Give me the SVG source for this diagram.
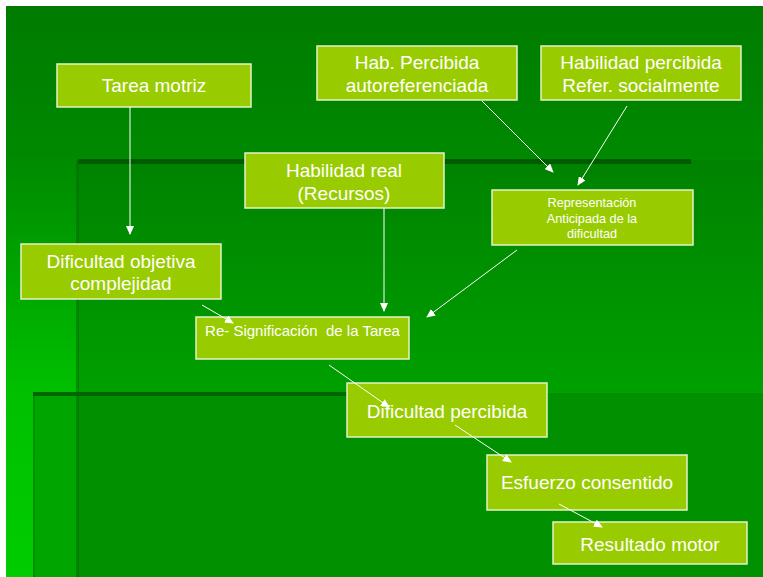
<svg xmlns="http://www.w3.org/2000/svg" width="763" height="577" viewBox="0 0 763 577">
<defs>
<linearGradient id="bg" x1="0" y1="6" x2="0" y2="577" gradientUnits="userSpaceOnUse">
<stop offset="0" stop-color="#007b00"/>
<stop offset="0.26" stop-color="#008900"/>
<stop offset="0.68" stop-color="#00c000"/>
<stop offset="1" stop-color="#00cc00"/>
</linearGradient>
<linearGradient id="ovA" x1="0" y1="160" x2="0" y2="393" gradientUnits="userSpaceOnUse">
<stop offset="0" stop-color="#008200"/>
<stop offset="1" stop-color="#00a000"/>
</linearGradient>
<marker id="ah" markerWidth="9" markerHeight="8" refX="8" refY="4" orient="auto" markerUnits="userSpaceOnUse">
<path d="M0,0 L9,4 L0,8 Z" fill="#ffffff"/>
</marker>
<style>
.node rect{fill:#99cc00;stroke:#e4f2c8;stroke-width:1.5}
.node text{font-family:"Liberation Sans",Arial,sans-serif;fill:#ffffff;text-anchor:middle}
.big{font-size:19px}
.mid{font-size:15px}
.sm{font-size:12.7px}
#connectors line{stroke:#ffffff;stroke-width:1;marker-end:url(#ah)}
</style>
</defs>
<g id="background">
<rect x="0" y="0" width="763" height="577" fill="#ffffff"/>
<rect x="6" y="6" width="757" height="571" fill="url(#bg)"/>
<rect x="78" y="160" width="685" height="233" fill="url(#ovA)"/>
<rect x="33" y="393" width="45" height="184" fill="#00a500"/>
<rect x="78" y="393" width="685" height="184" fill="#009000"/>
<rect x="76" y="160" width="3" height="417" fill="#007000" opacity="0.6"/>
<rect x="78" y="159" width="613" height="5" fill="#005a00"/>
<rect x="33" y="393" width="2" height="184" fill="#008000" opacity="0.6"/>
<rect x="33" y="392" width="320" height="4" fill="#006600"/>
</g>
<g id="tarea" class="node">
<rect x="57" y="64" width="194" height="43"/>
<text class="big" x="154" y="92">Tarea motriz</text>
</g>
<g id="habPercibida" class="node">
<rect x="317" y="46" width="200" height="54"/>
<text class="big" x="417" y="69">Hab. Percibida</text>
<text class="big" x="417" y="92">autoreferenciada</text>
</g>
<g id="habSocial" class="node">
<rect x="541" y="46" width="200" height="54"/>
<text class="big" x="641" y="69">Habilidad percibida</text>
<text class="big" x="641" y="92">Refer. socialmente</text>
</g>
<g id="habReal" class="node">
<rect x="245" y="153" width="199" height="55"/>
<text class="big" x="344" y="177">Habilidad real</text>
<text class="big" x="344" y="200">(Recursos)</text>
</g>
<g id="representacion" class="node">
<rect x="492" y="190" width="201" height="55"/>
<text class="sm" x="592" y="207">Representación</text>
<text class="sm" x="592" y="222.5">Anticipada de la</text>
<text class="sm" x="592" y="238">dificultad</text>
</g>
<g id="dificultadObjetiva" class="node">
<rect x="21" y="244" width="200" height="55"/>
<text class="big" x="121" y="268">Dificultad objetiva</text>
<text class="big" x="121" y="290">complejidad</text>
</g>
<g id="resignificacion" class="node">
<rect x="196" y="317" width="213" height="42"/>
<text class="mid" x="302.5" y="336" xml:space="preserve">Re- Significación  de la Tarea</text>
</g>
<g id="dificultadPercibida" class="node">
<rect x="347" y="383" width="200" height="54"/>
<text class="big" x="447" y="418">Dificultad percibida</text>
</g>
<g id="esfuerzo" class="node">
<rect x="487" y="455" width="200" height="55"/>
<text class="big" x="587" y="489">Esfuerzo consentido</text>
</g>
<g id="resultado" class="node">
<rect x="553" y="522" width="194" height="42"/>
<text class="big" x="650" y="551">Resultado motor</text>
</g>
<g id="connectors">
<line x1="130" y1="107" x2="130" y2="234"/>
<line x1="482" y1="101" x2="553" y2="172"/>
<line x1="627" y1="106" x2="578" y2="185"/>
<line x1="384" y1="208" x2="384" y2="311"/>
<line x1="517" y1="250" x2="427" y2="317"/>
<line x1="202" y1="305" x2="233" y2="323"/>
<line x1="329" y1="365" x2="389" y2="407"/>
<line x1="455" y1="425" x2="511" y2="462"/>
<line x1="559" y1="504" x2="602" y2="527"/>
</g>
</svg>
